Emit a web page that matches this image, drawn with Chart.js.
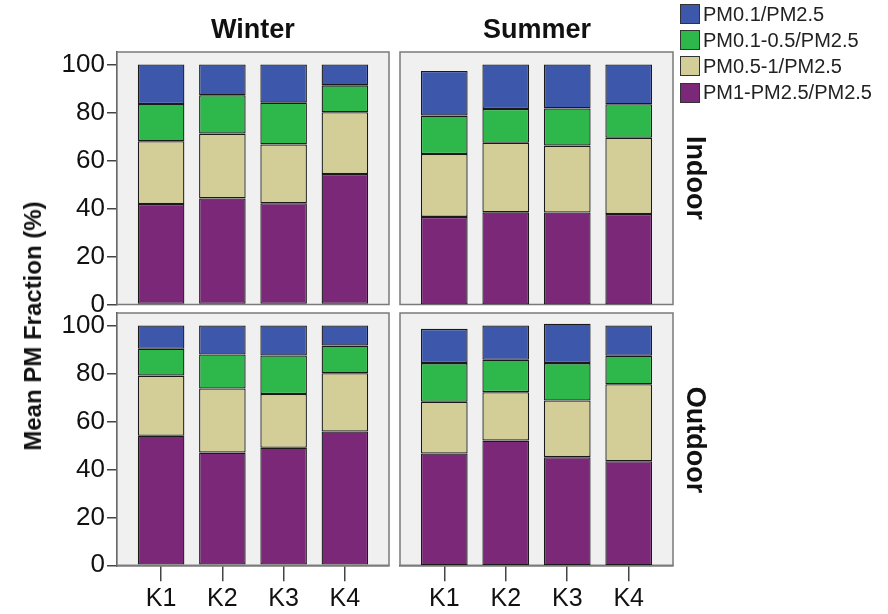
<!DOCTYPE html>
<html>
<head>
<meta charset="utf-8">
<script src="https://cdn.jsdelivr.net/npm/chart.js@4.4.0/dist/chart.umd.min.js"></script>
<style>
  body { margin: 0; background: #fff; }
  #wrap { position: relative; width: 888px; height: 614px; overflow: hidden;
          font-family: "Liberation Sans", Arial, sans-serif; color: #111; }
  canvas { position: absolute; }
  .lbl { position: absolute; white-space: nowrap; transform: translate(-50%, -50%); }
  .strip { font-weight: bold; font-size: 27px; }
  .legend { position: absolute; left: 680px; top: 1px; font-size: 20px; color: #222; }
  .legend div { height: 26.2px; display: flex; align-items: center; }
  .legend span.sw { width: 18px; height: 18px; border: 1px solid #333; margin-right: 3px; }
</style>
</head>
<body>
<div id="wrap">
  <canvas id="wi" width="395" height="322" style="left:0;top:0"></canvas>
  <canvas id="si" width="300" height="322" style="left:395px;top:0"></canvas>
  <canvas id="wo" width="395" height="304" style="left:0;top:310px"></canvas>
  <canvas id="so" width="300" height="304" style="left:395px;top:310px"></canvas>

  <div class="lbl strip" style="left:253px;top:29px">Winter</div>
  <div class="lbl strip" style="left:537px;top:29px">Summer</div>
  <div class="lbl strip" style="left:695px;top:178px;transform:translate(-50%,-50%) rotate(90deg)">Indoor</div>
  <div class="lbl strip" style="left:695px;top:440px;transform:translate(-50%,-50%) rotate(90deg)">Outdoor</div>
  <div class="lbl" style="left:33px;top:326px;font-weight:bold;font-size:24px;transform:translate(-50%,-50%) rotate(-90deg)">Mean PM Fraction (%)</div>

  <div class="legend" id="legend"></div>
</div>

<script>
const categories = ["K1", "K2", "K3", "K4"];
const yTicks = [0, 20, 40, 60, 80, 100];

// legend order top to bottom, stack order is the reverse
const fractionNames = ["PM0.1/PM2.5", "PM0.1-0.5/PM2.5", "PM0.5-1/PM2.5", "PM1-PM2.5/PM2.5"];
const fractionColors = ["#3d57aa", "#2eb84b", "#d3cd97", "#7a2877"];

// Winter / Indoor
const winterIndoorPm01 = [16.5, 12.8, 15.9, 8.7];
const winterIndoorPm01to05 = [15.5, 16.0, 17.4, 11.2];
const winterIndoorPm05to1 = [26.1, 27.0, 24.5, 25.7];
const winterIndoorPm1to25 = [41.9, 44.2, 42.2, 54.4];

// Summer / Indoor
const summerIndoorPm01 = [18.6, 18.5, 18.3, 16.6];
const summerIndoorPm01to05 = [16.0, 14.1, 15.5, 13.9];
const summerIndoorPm05to1 = [26.2, 29.0, 27.9, 31.8];
const summerIndoorPm1to25 = [36.5, 38.4, 38.3, 37.7];

// Winter / Outdoor
const winterOutdoorPm01 = [9.7, 12.1, 12.5, 8.4];
const winterOutdoorPm01to05 = [11.2, 14.2, 16.1, 11.5];
const winterOutdoorPm05to1 = [25.1, 26.7, 22.4, 24.3];
const winterOutdoorPm1to25 = [54.0, 47.0, 49.0, 55.8];

// Summer / Outdoor
const summerOutdoorPm01 = [14.3, 14.3, 16.4, 12.6];
const summerOutdoorPm01to05 = [16.1, 13.5, 15.6, 11.9];
const summerOutdoorPm05to1 = [21.6, 20.2, 23.6, 32.1];
const summerOutdoorPm1to25 = [46.6, 52.0, 45.1, 43.4];

// legend
const legend = document.getElementById("legend");
fractionNames.forEach((name, i) => {
  legend.innerHTML += `<div><span class="sw" style="background:${fractionColors[i]}"></span>${name}</div>`;
});

// grey facet box behind the bars
const panelBox = {
  id: "panelBox",
  beforeDatasetsDraw(chart) {
    const { ctx, chartArea: a } = chart;
    ctx.save();
    ctx.fillStyle = "#f0f0f0";
    ctx.fillRect(a.left, a.top, a.right - a.left, a.bottom - a.top);
    ctx.strokeStyle = "#7a7a7a";
    ctx.lineWidth = 1.5;
    ctx.strokeRect(a.left, a.top, a.right - a.left, a.bottom - a.top);
    ctx.restore();
  },
};

const makeDatasets = (pm1to25, pm05to1, pm01to05, pm01) =>
  [pm1to25, pm05to1, pm01to05, pm01].map((values, k) => {
    const idx = 3 - k;
    return {
      label: fractionNames[idx],
      data: values.map((v, i) => ({ x: i, y: v })),
      backgroundColor: fractionColors[idx],
      borderColor: "#1a1a1a",
      borderWidth: 1.3,
      borderSkipped: false,
      barPercentage: 0.95,
      categoryPercentage: 0.8,
    };
  });

// tick labels may hang outside the facet box, so drop the padding they ask for
const noLabelPadding = (s) => {
  s.paddingTop = 0;
  s.paddingBottom = 0;
  s.paddingLeft = 0;
  s.paddingRight = 0;
};

const drawPanel = (id, datasets, showY, showX, padding) => {
  const config = {
    type: "bar",
    data: { datasets },
    plugins: [panelBox],
    options: {
      responsive: false,
      animation: false,
      devicePixelRatio: 1,
      layout: { padding },
      plugins: { legend: { display: false }, tooltip: { enabled: false } },
      scales: {
        x: {
          type: "linear",
          stacked: true,
          offset: false,
          min: -0.72,
          max: 3.72,
          display: showX,
          afterBuildTicks: (s) => { s.ticks = categories.map((_, i) => ({ value: i })); },
          afterFit: (s) => { noLabelPadding(s); if (showX) s.height = 48.7; },
          border: { display: true, color: "#3a3a3a", width: 1.5 },
          grid: { offset: false, drawOnChartArea: false, tickLength: 16, color: "#444", lineWidth: 1.5 },
          ticks: {
            callback: (v) => categories[v],
            font: { family: "Liberation Sans", size: 25 },
            color: "#111",
            padding: 3,
            maxRotation: 0,
            autoSkip: false,
          },
        },
        y: {
          stacked: true,
          min: 0,
          max: 105.2,
          display: showY,
          afterBuildTicks: (s) => { s.ticks = yTicks.map((v) => ({ value: v })); },
          afterFit: (s) => { noLabelPadding(s); if (showY) s.width = 117; },
          border: { display: true, color: "#3a3a3a", width: 1.5 },
          grid: { drawOnChartArea: false, tickLength: 10, color: "#444", lineWidth: 1.5 },
          ticks: {
            font: { family: "Liberation Sans", size: 26 },
            color: "#111",
            padding: 2,
          },
        },
      },
    },
  };
  new Chart(document.getElementById(id).getContext("2d"), config);
};

drawPanel("wi", makeDatasets(winterIndoorPm1to25, winterIndoorPm05to1, winterIndoorPm01to05, winterIndoorPm01),
  true, false, { top: 52, right: 6, bottom: 17.5, left: 0 });
drawPanel("si", makeDatasets(summerIndoorPm1to25, summerIndoorPm05to1, summerIndoorPm01to05, summerIndoorPm01),
  false, false, { top: 52, right: 22, bottom: 17.5, left: 5 });
drawPanel("wo", makeDatasets(winterOutdoorPm1to25, winterOutdoorPm05to1, winterOutdoorPm01to05, winterOutdoorPm01),
  true, true, { top: 3, right: 6, bottom: 0, left: 0 });
drawPanel("so", makeDatasets(summerOutdoorPm1to25, summerOutdoorPm05to1, summerOutdoorPm01to05, summerOutdoorPm01),
  false, true, { top: 3, right: 22, bottom: 0, left: 5 });
</script>
</body>
</html>
